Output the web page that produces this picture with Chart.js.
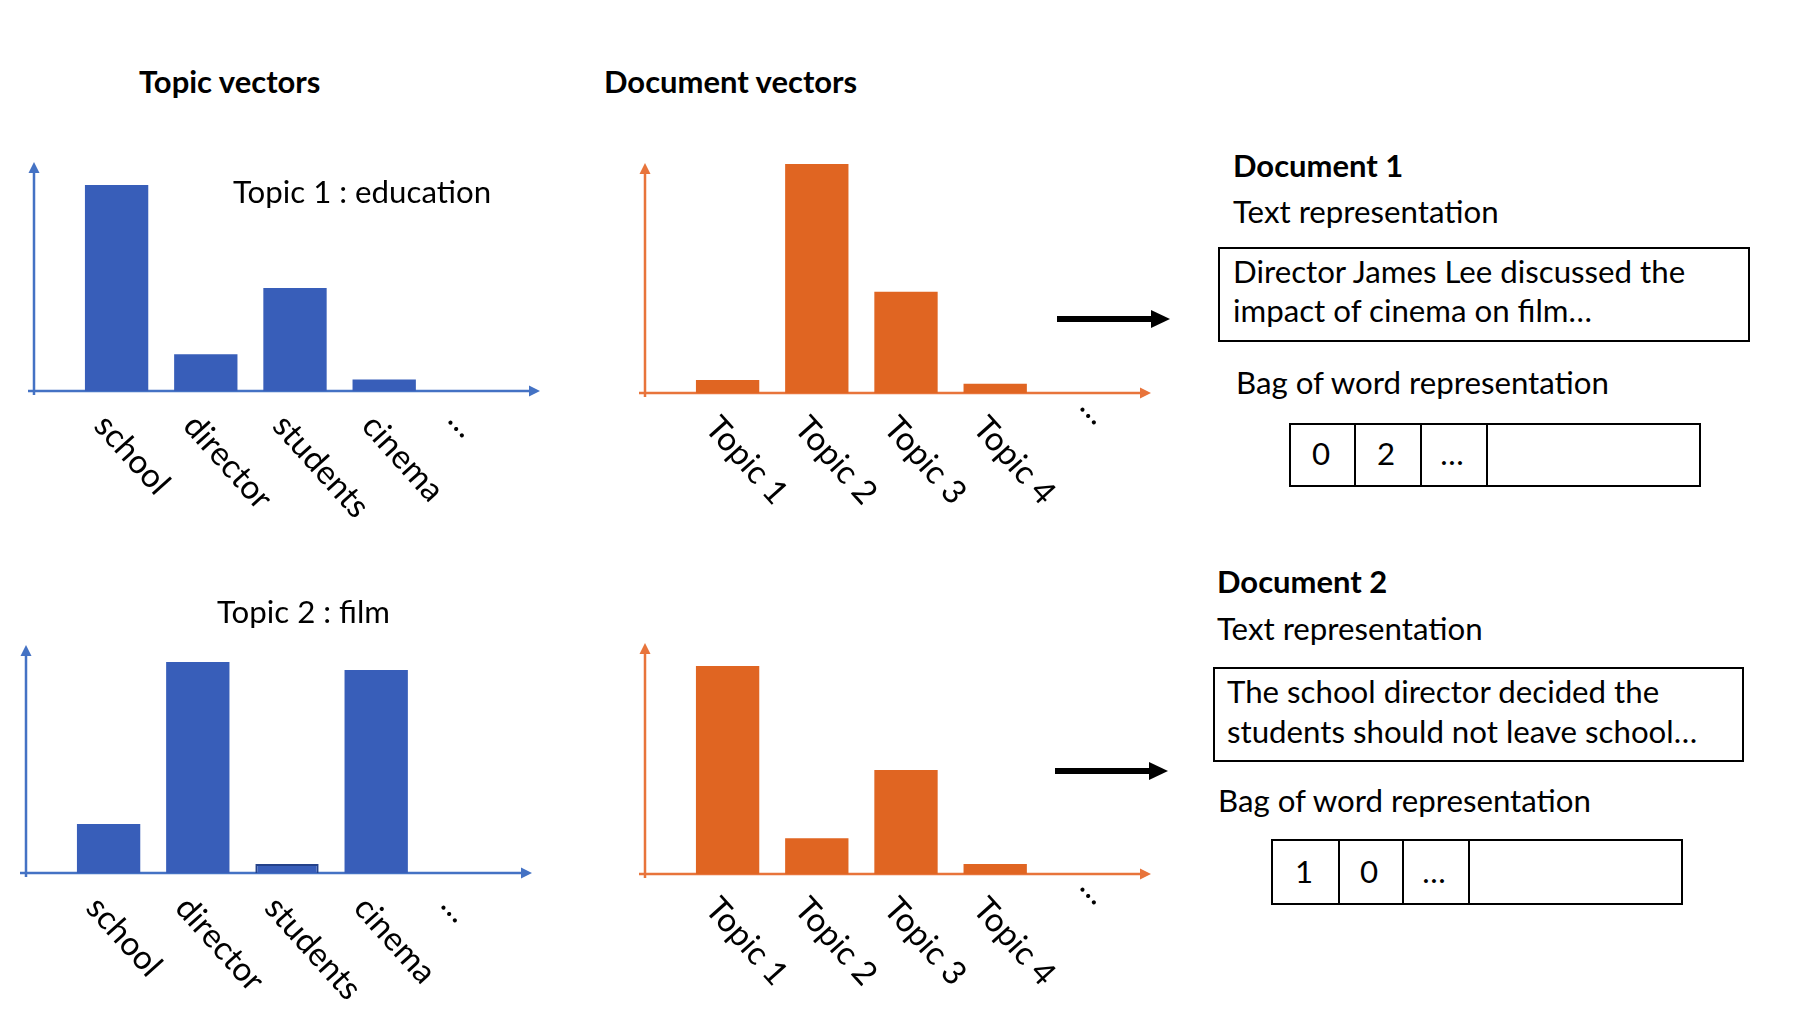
<!DOCTYPE html>
<html>
<head>
<meta charset="utf-8">
<script src="https://cdn.jsdelivr.net/npm/chart.js@4.4.0/dist/chart.umd.min.js"></script>
<style>
  html, body { margin: 0; padding: 0; background: #fff; }
  #page { position: relative; width: 1802px; height: 1012px; overflow: hidden; }
  #page canvas { position: absolute; }
  .txt { position: absolute; white-space: nowrap; color: #000; }
  .box { position: absolute; border: 2px solid #000; box-sizing: border-box; }
  .cell { position: absolute; top: 0; bottom: 0; border-right: 2px solid #000; box-sizing: border-box; }
</style>
</head>
<body>
<div id="page"></div>
<script>
// valeurs (hauteur relative des barres, 0..10)
const wordLabels = ['school', 'director', 'students', 'cinema', '…'];
const topic1Weights = [9.0, 1.6, 4.5, 0.5, null];
const topic2Weights = [2.15, 9.25, 0.4, 8.9, null];

const topicLabels = ['Topic 1', 'Topic 2', 'Topic 3', 'Topic 4', '…'];
const doc1Topics = [0.57, 9.96, 4.4, 0.4, null];
const doc2Topics = [9.0, 1.55, 4.5, 0.43, null];

const doc1Bow = ['0', '2', '…', ''];
const doc2Bow = ['1', '0', '…', ''];

const page = document.getElementById('page');
const BLUE = '#385eb9', BLUE_AXIS = '#4472c4';
const ORANGE = '#e06522', ORANGE_AXIS = '#e8743b';

// taille de police calée sur la largeur du texte d'origine
const meas = document.createElement('canvas').getContext('2d');
function fitSize(text, weight, target) {
    meas.font = weight + ' 100px Lato';
    return 100 * target / meas.measureText(text).width;
}
const REG = fitSize('Director James Lee discussed the', 'normal', 454);
const BOLD = fitSize('Document vectors', 'bold', 254);
const LABEL = REG * 1.06;

function addText(str, x, base, size, weight, center) {
    const font = weight + ' ' + size + 'px Lato';
    meas.font = font;
    const m = meas.measureText('Hg');
    const el = document.createElement('div');
    el.className = 'txt';
    el.textContent = str;
    el.style.font = font;
    el.style.lineHeight = (m.fontBoundingBoxAscent + m.fontBoundingBoxDescent) + 'px';
    el.style.left = x + 'px';
    el.style.top = (base - m.fontBoundingBoxAscent) + 'px';
    if (center) el.style.transform = 'translateX(-50%)';
    page.appendChild(el);
}

function addBox(left, top, w, h) {
    const b = document.createElement('div');
    b.className = 'box';
    Object.assign(b.style, { left: left + 'px', top: top + 'px', width: w + 'px', height: h + 'px' });
    page.appendChild(b);
    return b;
}

function addBow(values, left, top, w, h, dividers, base) {
    const b = addBox(left, top, w, h);
    let prev = 0;
    dividers.forEach(d => {
        const c = document.createElement('div');
        c.className = 'cell';
        c.style.left = prev + 'px';
        c.style.width = (d - prev + 1) + 'px';
        b.appendChild(c);
        prev = d;
    });
    const edges = [0, ...dividers, w];
    values.forEach((v, i) => {
        if (v) addText(v, left + (edges[i] + edges[i + 1]) / 2, base, REG, 'normal', true);
    });
}

// axes avec flèches
const arrowAxes = {
    id: 'arrowAxes',
    beforeDatasetsDraw(chart, args, o) {
        const { ctx, chartArea: a } = chart;
        const ax = a.left - o.gap, ay = a.bottom;
        const tipX = a.right + o.overshoot;
        const hd = 11;
        ctx.save();
        ctx.strokeStyle = o.color;
        ctx.fillStyle = o.color;
        ctx.lineWidth = 2.5;
        ctx.beginPath();
        ctx.moveTo(ax, ay + 4);
        ctx.lineTo(ax, a.top + hd);
        ctx.moveTo(ax - 6, ay);
        ctx.lineTo(tipX - hd, ay);
        ctx.stroke();
        ctx.beginPath();
        ctx.moveTo(ax, a.top);
        ctx.lineTo(ax - 5.5, a.top + hd);
        ctx.lineTo(ax + 5.5, a.top + hd);
        ctx.closePath();
        ctx.fill();
        ctx.beginPath();
        ctx.moveTo(tipX, ay);
        ctx.lineTo(tipX - hd, ay - 5.5);
        ctx.lineTo(tipX - hd, ay + 5.5);
        ctx.closePath();
        ctx.fill();
        ctx.restore();
    }
};

// étiquettes inclinées vers le bas
const slantLabels = {
    id: 'slantLabels',
    afterDraw(chart, args, o) {
        const { ctx, chartArea } = chart;
        const xs = chart.scales.x;
        ctx.save();
        ctx.font = LABEL + 'px Lato';
        ctx.fillStyle = '#000';
        ctx.textAlign = 'left';
        ctx.textBaseline = 'alphabetic';
        chart.data.labels.forEach((lab, i) => {
            let px = xs.getPixelForValue(i) - 24;
            let py = chartArea.bottom + 36;
            if (lab === '…') { px += o.dots[0]; py += o.dots[1]; }
            ctx.save();
            ctx.translate(px, py);
            ctx.rotate(48 * Math.PI / 180);
            ctx.fillText(lab, 0, 0);
            ctx.restore();
        });
        ctx.restore();
    }
};

function drawBars(cfg) {
    const canvas = document.createElement('canvas');
    canvas.width = 540;
    canvas.height = 400;
    canvas.style.left = cfg.left + 'px';
    canvas.style.top = cfg.top + 'px';
    page.appendChild(canvas);
    new Chart(canvas, {
        type: 'bar',
        data: {
            labels: cfg.labels,
            datasets: [{
                data: cfg.values,
                backgroundColor: cfg.color,
                borderColor: cfg.edge || cfg.color,
                borderWidth: cfg.borders || 0,
                barPercentage: 0.71,
                categoryPercentage: 1
            }]
        },
        options: {
            responsive: false,
            animation: false,
            layout: { padding: { left: 62, right: 32, top: cfg.padTop, bottom: cfg.padBottom } },
            scales: {
                x: { display: false, offset: true },
                y: { display: false, min: 0, max: 10 }
            },
            plugins: {
                legend: { display: false },
                tooltip: { enabled: false },
                arrowAxes: { color: cfg.axis, gap: 38, overshoot: 22 },
                slantLabels: { dots: cfg.dots }
            }
        },
        plugins: [arrowAxes, slantLabels]
    });
}

// Topic vectors
drawBars({ labels: wordLabels, values: topic1Weights, color: BLUE, axis: BLUE_AXIS,
    left: 10, top: 140, padTop: 22, padBottom: 149, dots: [-3, -6] });
drawBars({ labels: wordLabels, values: topic2Weights, color: BLUE, axis: BLUE_AXIS,
    edge: '#24428a', borders: [0, 0, 2, 0, 0],
    left: 2, top: 620, padTop: 25, padBottom: 147, dots: [-2, -3] });

// Document vectors
drawBars({ labels: topicLabels, values: doc1Topics, color: ORANGE, axis: ORANGE_AXIS,
    left: 621, top: 140, padTop: 23, padBottom: 147, dots: [18, -21] });
drawBars({ labels: topicLabels, values: doc2Topics, color: ORANGE, axis: ORANGE_AXIS,
    left: 621, top: 620, padTop: 23, padBottom: 146, dots: [18, -22] });

// titres et textes
addText('Topic vectors', 139, 93, BOLD, 'bold');
addText('Document vectors', 604, 93, BOLD, 'bold');
addText('Topic 1 : education', 233, 203, REG, 'normal');
addText('Topic 2 : film', 217, 623, REG, 'normal');

addText('Document 1', 1233, 177, BOLD, 'bold');
addText('Text representation', 1233, 223, REG, 'normal');
addBox(1218, 247, 532, 95);
addText('Director James Lee discussed the', 1233, 283, REG, 'normal');
addText('impact of cinema on film…', 1233, 322, REG, 'normal');
addText('Bag of word representation', 1236, 394, REG, 'normal');
addBow(doc1Bow, 1289, 423, 412, 64, [64, 130, 196], 465);

addText('Document 2', 1217, 593, BOLD, 'bold');
addText('Text representation', 1217, 640, REG, 'normal');
addBox(1213, 667, 531, 95);
addText('The school director decided the', 1227, 703, REG, 'normal');
addText('students should not leave school…', 1227, 743, REG, 'normal');
addText('Bag of word representation', 1218, 812, REG, 'normal');
addBow(doc2Bow, 1271, 839, 412, 66, [66, 130, 196], 883);

// flèches noires
const svgNS = 'http://www.w3.org/2000/svg';
const svg = document.createElementNS(svgNS, 'svg');
svg.setAttribute('width', 1802);
svg.setAttribute('height', 1012);
svg.style.position = 'absolute';
svg.style.left = '0';
svg.style.top = '0';
svg.innerHTML =
    '<line x1="1057" y1="319" x2="1154" y2="319" stroke="#000" stroke-width="6"/>' +
    '<polygon points="1151,310 1170,319 1151,328" fill="#000"/>' +
    '<line x1="1055" y1="771" x2="1152" y2="771" stroke="#000" stroke-width="6"/>' +
    '<polygon points="1149,762 1168,771 1149,780" fill="#000"/>';
page.appendChild(svg);
</script>
</body>
</html>
